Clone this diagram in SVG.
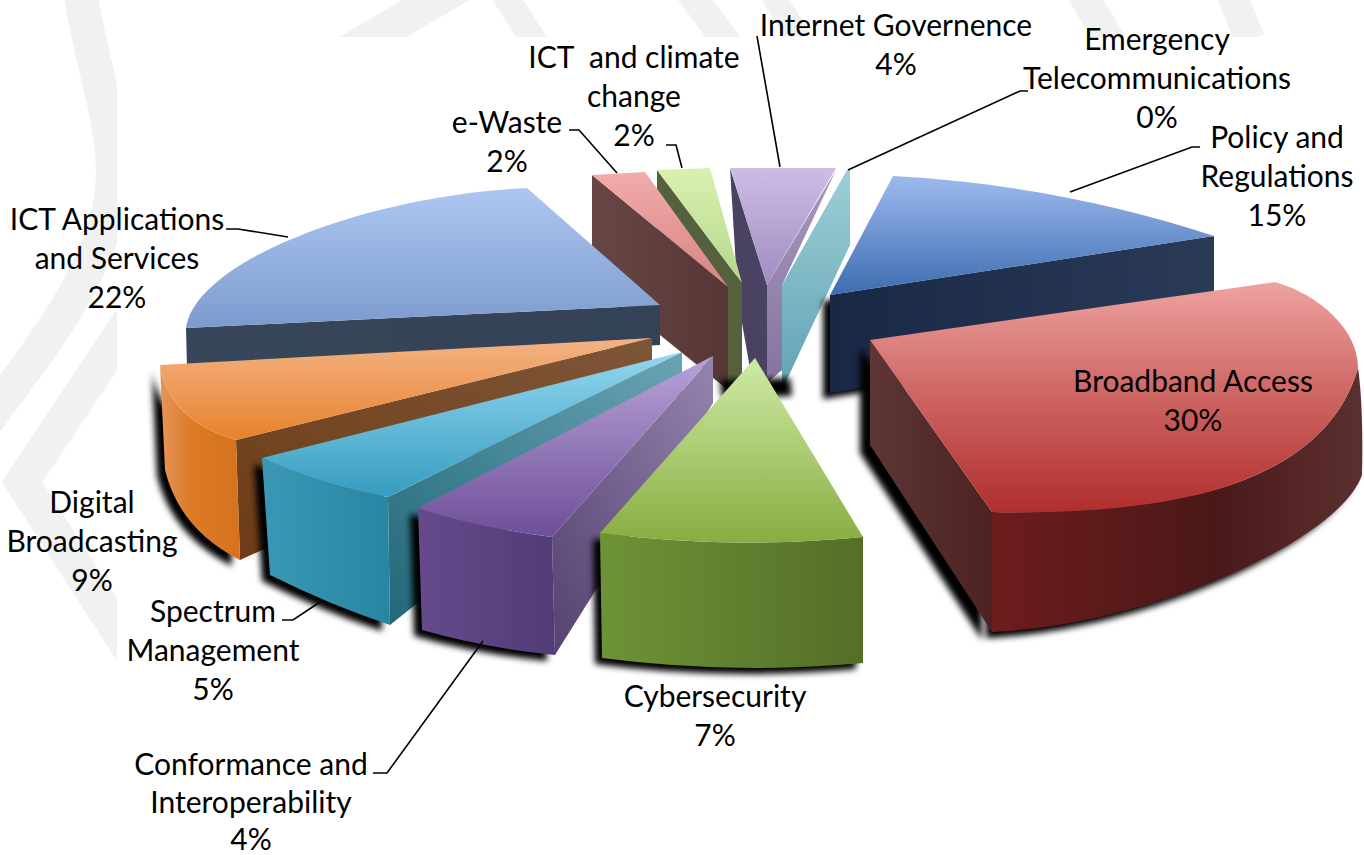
<svg xmlns="http://www.w3.org/2000/svg" width="1364" height="855" viewBox="0 0 1364 855">
<style>
  text { font-family: Lato, "Open Sans", "Liberation Sans", sans-serif; font-size: 30px; fill: #000; text-anchor: middle; }
  .lead { fill: none; stroke: #000; stroke-width: 1.6; }
  .wm { fill: none; stroke: #f1f1f1; stroke-linecap: butt; }
  .shadow { fill: #000; filter: url(#blur); }
</style>
<defs>
  <filter id="blur" x="-20%" y="-20%" width="140%" height="140%"><feGaussianBlur stdDeviation="3"/></filter>
  <clipPath id="wmclip"><path d="M0,0 H1364 V37 H117 V855 H0 Z"/></clipPath>
  <linearGradient id="gAppTop" x1="0" y1="0" x2="0" y2="1"><stop offset="0" stop-color="#aec7f2"/><stop offset="1" stop-color="#7c9bcd"/></linearGradient>
  <linearGradient id="gAppFront" x1="0" y1="0" x2="1" y2="0"><stop offset="0" stop-color="#38465b"/><stop offset="1" stop-color="#344257"/></linearGradient>
  <linearGradient id="gPolTop" x1="0" y1="0" x2="0" y2="1"><stop offset="0" stop-color="#9dbaee"/><stop offset="1" stop-color="#3c6cb0"/></linearGradient>
  <linearGradient id="gPolFront" x1="0" y1="0" x2="1" y2="0"><stop offset="0" stop-color="#182845"/><stop offset="1" stop-color="#2b3a57"/></linearGradient>
  <linearGradient id="gRedTop" x1="0" y1="0" x2="0" y2="1"><stop offset="0" stop-color="#eea3a1"/><stop offset="0.45" stop-color="#d06a68"/><stop offset="1" stop-color="#b02e2e"/></linearGradient>
  <linearGradient id="gRedFront" x1="0" y1="0" x2="1" y2="0"><stop offset="0" stop-color="#6e1c1c"/><stop offset="0.6" stop-color="#4a1818"/><stop offset="1" stop-color="#5c3030"/></linearGradient>
  <linearGradient id="gRedSide" x1="0" y1="0" x2="1" y2="0"><stop offset="0" stop-color="#5e3636"/><stop offset="1" stop-color="#4c2222"/></linearGradient>
  <linearGradient id="gGrnTop" x1="0" y1="0" x2="0" y2="1"><stop offset="0" stop-color="#cfeaa6"/><stop offset="1" stop-color="#88ad40"/></linearGradient>
  <linearGradient id="gGrnFront" x1="0" y1="0" x2="1" y2="0"><stop offset="0" stop-color="#6e9336"/><stop offset="1" stop-color="#546e28"/></linearGradient>
  <linearGradient id="gPurTop" x1="0" y1="0" x2="0" y2="1"><stop offset="0" stop-color="#b9a3d9"/><stop offset="1" stop-color="#6e4f98"/></linearGradient>
  <linearGradient id="gPurFront" x1="0" y1="0" x2="1" y2="0"><stop offset="0" stop-color="#664a8c"/><stop offset="1" stop-color="#523b76"/></linearGradient>
  <linearGradient id="gPurSide" x1="1" y1="0" x2="0" y2="1"><stop offset="0" stop-color="#9484ae"/><stop offset="1" stop-color="#55426f"/></linearGradient>
  <linearGradient id="gCyTop" x1="0" y1="0" x2="0" y2="1"><stop offset="0" stop-color="#93d7f0"/><stop offset="1" stop-color="#369cc0"/></linearGradient>
  <linearGradient id="gCyFront" x1="0" y1="0" x2="1" y2="0"><stop offset="0" stop-color="#3a98b4"/><stop offset="1" stop-color="#2986a2"/></linearGradient>
  <linearGradient id="gCySide" x1="1" y1="0" x2="0" y2="1"><stop offset="0" stop-color="#6aa4b2"/><stop offset="1" stop-color="#21687a"/></linearGradient>
  <linearGradient id="gOrTop" x1="0" y1="0" x2="0" y2="1"><stop offset="0" stop-color="#f3b385"/><stop offset="1" stop-color="#e8822c"/></linearGradient>
  <linearGradient id="gOrFront" x1="0" y1="0" x2="1" y2="0"><stop offset="0" stop-color="#e6955a"/><stop offset="0.4" stop-color="#dc7a26"/><stop offset="1" stop-color="#d6721f"/></linearGradient>
  <linearGradient id="gOrSide" x1="1" y1="0" x2="0" y2="1"><stop offset="0" stop-color="#7e5638"/><stop offset="1" stop-color="#6e3c16"/></linearGradient>
  <linearGradient id="gPinkTop" x1="0" y1="0" x2="0" y2="1"><stop offset="0" stop-color="#f2acaa"/><stop offset="1" stop-color="#d48484"/></linearGradient>
  <linearGradient id="gPinkSide" x1="0" y1="0" x2="1" y2="0"><stop offset="0" stop-color="#684646"/><stop offset="1" stop-color="#573636"/></linearGradient>
  <linearGradient id="gLimeTop" x1="0" y1="0" x2="0" y2="1"><stop offset="0" stop-color="#d9f1b0"/><stop offset="1" stop-color="#b4d68a"/></linearGradient>
  <linearGradient id="gLavTop" x1="0" y1="0" x2="0" y2="1"><stop offset="0" stop-color="#cdbde5"/><stop offset="1" stop-color="#a08cc0"/></linearGradient>
  <linearGradient id="gLavR" x1="0" y1="0" x2="0" y2="1"><stop offset="0" stop-color="#a898c0"/><stop offset="1" stop-color="#85759e"/></linearGradient>
  <linearGradient id="gEmer" x1="0" y1="0" x2="0" y2="1"><stop offset="0" stop-color="#9ccfd6"/><stop offset="1" stop-color="#62a2b4"/></linearGradient>
</defs>

<rect x="0" y="0" width="1364" height="855" fill="#ffffff"/>

<g id="watermark" clip-path="url(#wmclip)">
  <path class="wm" stroke-width="34" d="M80,-10 C92,70 118,130 112,190 C104,270 40,350 -20,430"/>
  <path class="wm" stroke-width="34" d="M130,320 L22,482 L130,650"/>
  <path class="wm" stroke-width="34" d="M330,62 L460,-14"/>
  <path class="wm" stroke-width="26" d="M500,-12 L548,62"/>
  <path class="wm" stroke-width="28" d="M688,-10 L740,60"/>
  <path class="wm" stroke-width="24" d="M770,-10 L800,40"/>
  <path class="wm" stroke-width="30" d="M1080,-10 L1110,40"/>
  <path class="wm" stroke-width="30" d="M1230,-10 L1250,40"/>
</g>

<g id="slice-internet-governance">
  <path fill="#4a4262" d="M730,168 L767,285 L767,383 L752,380 L738,300 Z"/>
  <path fill="url(#gLavR)" d="M767,285 L836,170 L782,285 L782,370 L767,383 Z"/>
  <path fill="url(#gLavTop)" d="M730,168 L836,168 L767,285 Z"/>
</g>
<g id="slice-emergency-telecommunications">
  <path fill="url(#gEmer)" d="M782,285 L847,170 L850,170 L850,245 L782,390 Z"/>
</g>
<g id="slice-ict-climate-change">
  <path fill="#55613d" d="M657,170 L742,283 L742,382 L728,388 L657,280 Z"/>
  <path fill="url(#gLimeTop)" d="M657,170 L710,168 L742,283 Z"/>
</g>
<g id="slice-e-waste">
  <path fill="url(#gPinkSide)" d="M592,175 L728,287 L728,390 L592,280 Z"/>
  <path fill="url(#gPinkTop)" d="M592,175 L645,172 L728,287 Z"/>
</g>
<path class="shadow" d="M720,380 L790,378 L792,396 L722,398 Z"/>

<g id="slice-policy-regulations">
  <path class="shadow" transform="translate(-7,6)" d="M830,295 L1214,236 L1214,330 L830,393 Z"/>
  <path fill="url(#gPolFront)" d="M830,295 L1214,236 L1214,330 L830,393 Z"/>
  <path fill="url(#gPolTop)" d="M893,176 C1010,182 1120,205 1214,236 L830,295 Z"/>
</g>

<g id="slice-ict-applications">
  <path fill="url(#gAppFront)" d="M186,328 L660,305 L660,345 L187,368 Z"/>
  <path fill="url(#gAppTop)" d="M186,328 C195,260 370,195 527,188 L660,305 Z"/>
</g>

<g id="slice-digital-broadcasting">
  <path class="shadow" transform="translate(-8,6)" d="M160,365 Q168,420 236,440 L240,560 Q180,530 165,470 Z"/>
  <path fill="url(#gOrSide)" d="M236,440 L652,338 L652,375 L240,560 Z"/>
  <path fill="url(#gOrFront)" d="M160,365 Q168,420 236,440 L240,560 Q180,530 165,470 Z"/>
  <path fill="url(#gOrTop)" d="M652,338 L236,440 Q168,420 160,365 Z"/>
</g>

<g id="slice-spectrum-management">
  <path class="shadow" transform="translate(-8,6)" d="M262,458 Q320,485 388,497 L390,625 Q330,605 270,575 Z"/>
  <path fill="url(#gCySide)" d="M388,497 L682,352 L682,392 L390,625 Z"/>
  <path fill="url(#gCyFront)" d="M262,458 Q320,485 388,497 L390,625 Q330,605 270,575 Z"/>
  <path fill="url(#gCyTop)" d="M682,352 L388,497 Q320,485 262,458 Z"/>
</g>

<g id="slice-conformance">
  <path class="shadow" transform="translate(-8,6)" d="M418,508 Q480,528 552,537 L555,655 Q485,648 422,630 Z"/>
  <path fill="url(#gPurSide)" d="M552,537 L713,356 L713,403 L555,655 Z"/>
  <path fill="url(#gPurFront)" d="M418,508 Q480,528 552,537 L555,655 Q485,648 422,630 Z"/>
  <path fill="url(#gPurTop)" d="M713,356 L552,537 Q480,528 418,508 Z"/>
</g>

<g id="slice-cybersecurity">
  <path class="shadow" transform="translate(-7,6)" d="M600,533 Q730,550 863,537 L863,663 Q730,675 602,658 Z"/>
  <path fill="url(#gGrnFront)" d="M600,533 Q730,550 863,537 L863,663 Q730,675 602,658 Z"/>
  <path fill="url(#gGrnTop)" d="M755,358 L863,537 Q730,550 600,533 Z"/>
</g>

<g id="slice-broadband-access">
  <path class="shadow" transform="translate(-10,8)" d="M870,340 L992,512 L992,632 L870,445 Z"/>
  <path class="shadow" transform="translate(-6,6)" d="M992,512 L1362,470 C1340,540 1150,625 992,632 Z"/>
  <path fill="url(#gRedSide)" d="M870,340 L992,512 L992,632 L870,445 Z"/>
  <path fill="url(#gRedFront)" d="M992,512 C1130,515 1320,500 1358,368 C1362,395 1363,435 1362,475 C1340,540 1150,625 992,632 Z"/>
  <path fill="url(#gRedTop)" d="M870,340 L1275,282 C1320,295 1358,330 1358,368 C1320,500 1130,515 992,512 Z"/>
</g>

<g id="connectors">
  <polyline class="lead" points="757,36 780,167"/>
  <polyline class="lead" points="1028,91 1020,91 848,170"/>
  <polyline class="lead" points="1200,147 1192,147 1070,192"/>
  <polyline class="lead" points="666,145 676,145 682,168"/>
  <polyline class="lead" points="569,130 579,130 617,173"/>
  <polyline class="lead" points="226,229 238,229 288,237"/>
  <polyline class="lead" points="282,620 293,620 323,600"/>
  <polyline class="lead" points="373,773 387,773 483,641"/>
</g>

<g id="labels">
  <text x="896" y="36">Internet Governence</text>
  <text x="896" y="75">4%</text>
  <text x="1157" y="50">Emergency</text>
  <text x="1157" y="89">Telecommunications</text>
  <text x="1157" y="128">0%</text>
  <text x="1277" y="148">Policy and</text>
  <text x="1277" y="187">Regulations</text>
  <text x="1277" y="226">15%</text>
  <text x="634" y="68" xml:space="preserve">ICT  and climate</text>
  <text x="634" y="107">change</text>
  <text x="634" y="146">2%</text>
  <text x="507" y="133">e-Waste</text>
  <text x="507" y="172">2%</text>
  <text x="117" y="230">ICT Applications</text>
  <text x="117" y="269">and Services</text>
  <text x="117" y="308">22%</text>
  <text x="92" y="513">Digital</text>
  <text x="92" y="552">Broadcasting</text>
  <text x="92" y="591">9%</text>
  <text x="213" y="622">Spectrum</text>
  <text x="213" y="661">Management</text>
  <text x="213" y="700">5%</text>
  <text x="251" y="775">Conformance and</text>
  <text x="251" y="813">Interoperability</text>
  <text x="251" y="850">4%</text>
  <text x="715" y="707">Cybersecurity</text>
  <text x="715" y="746">7%</text>
  <text x="1193" y="392">Broadband Access</text>
  <text x="1193" y="431">30%</text>
</g>
</svg>
